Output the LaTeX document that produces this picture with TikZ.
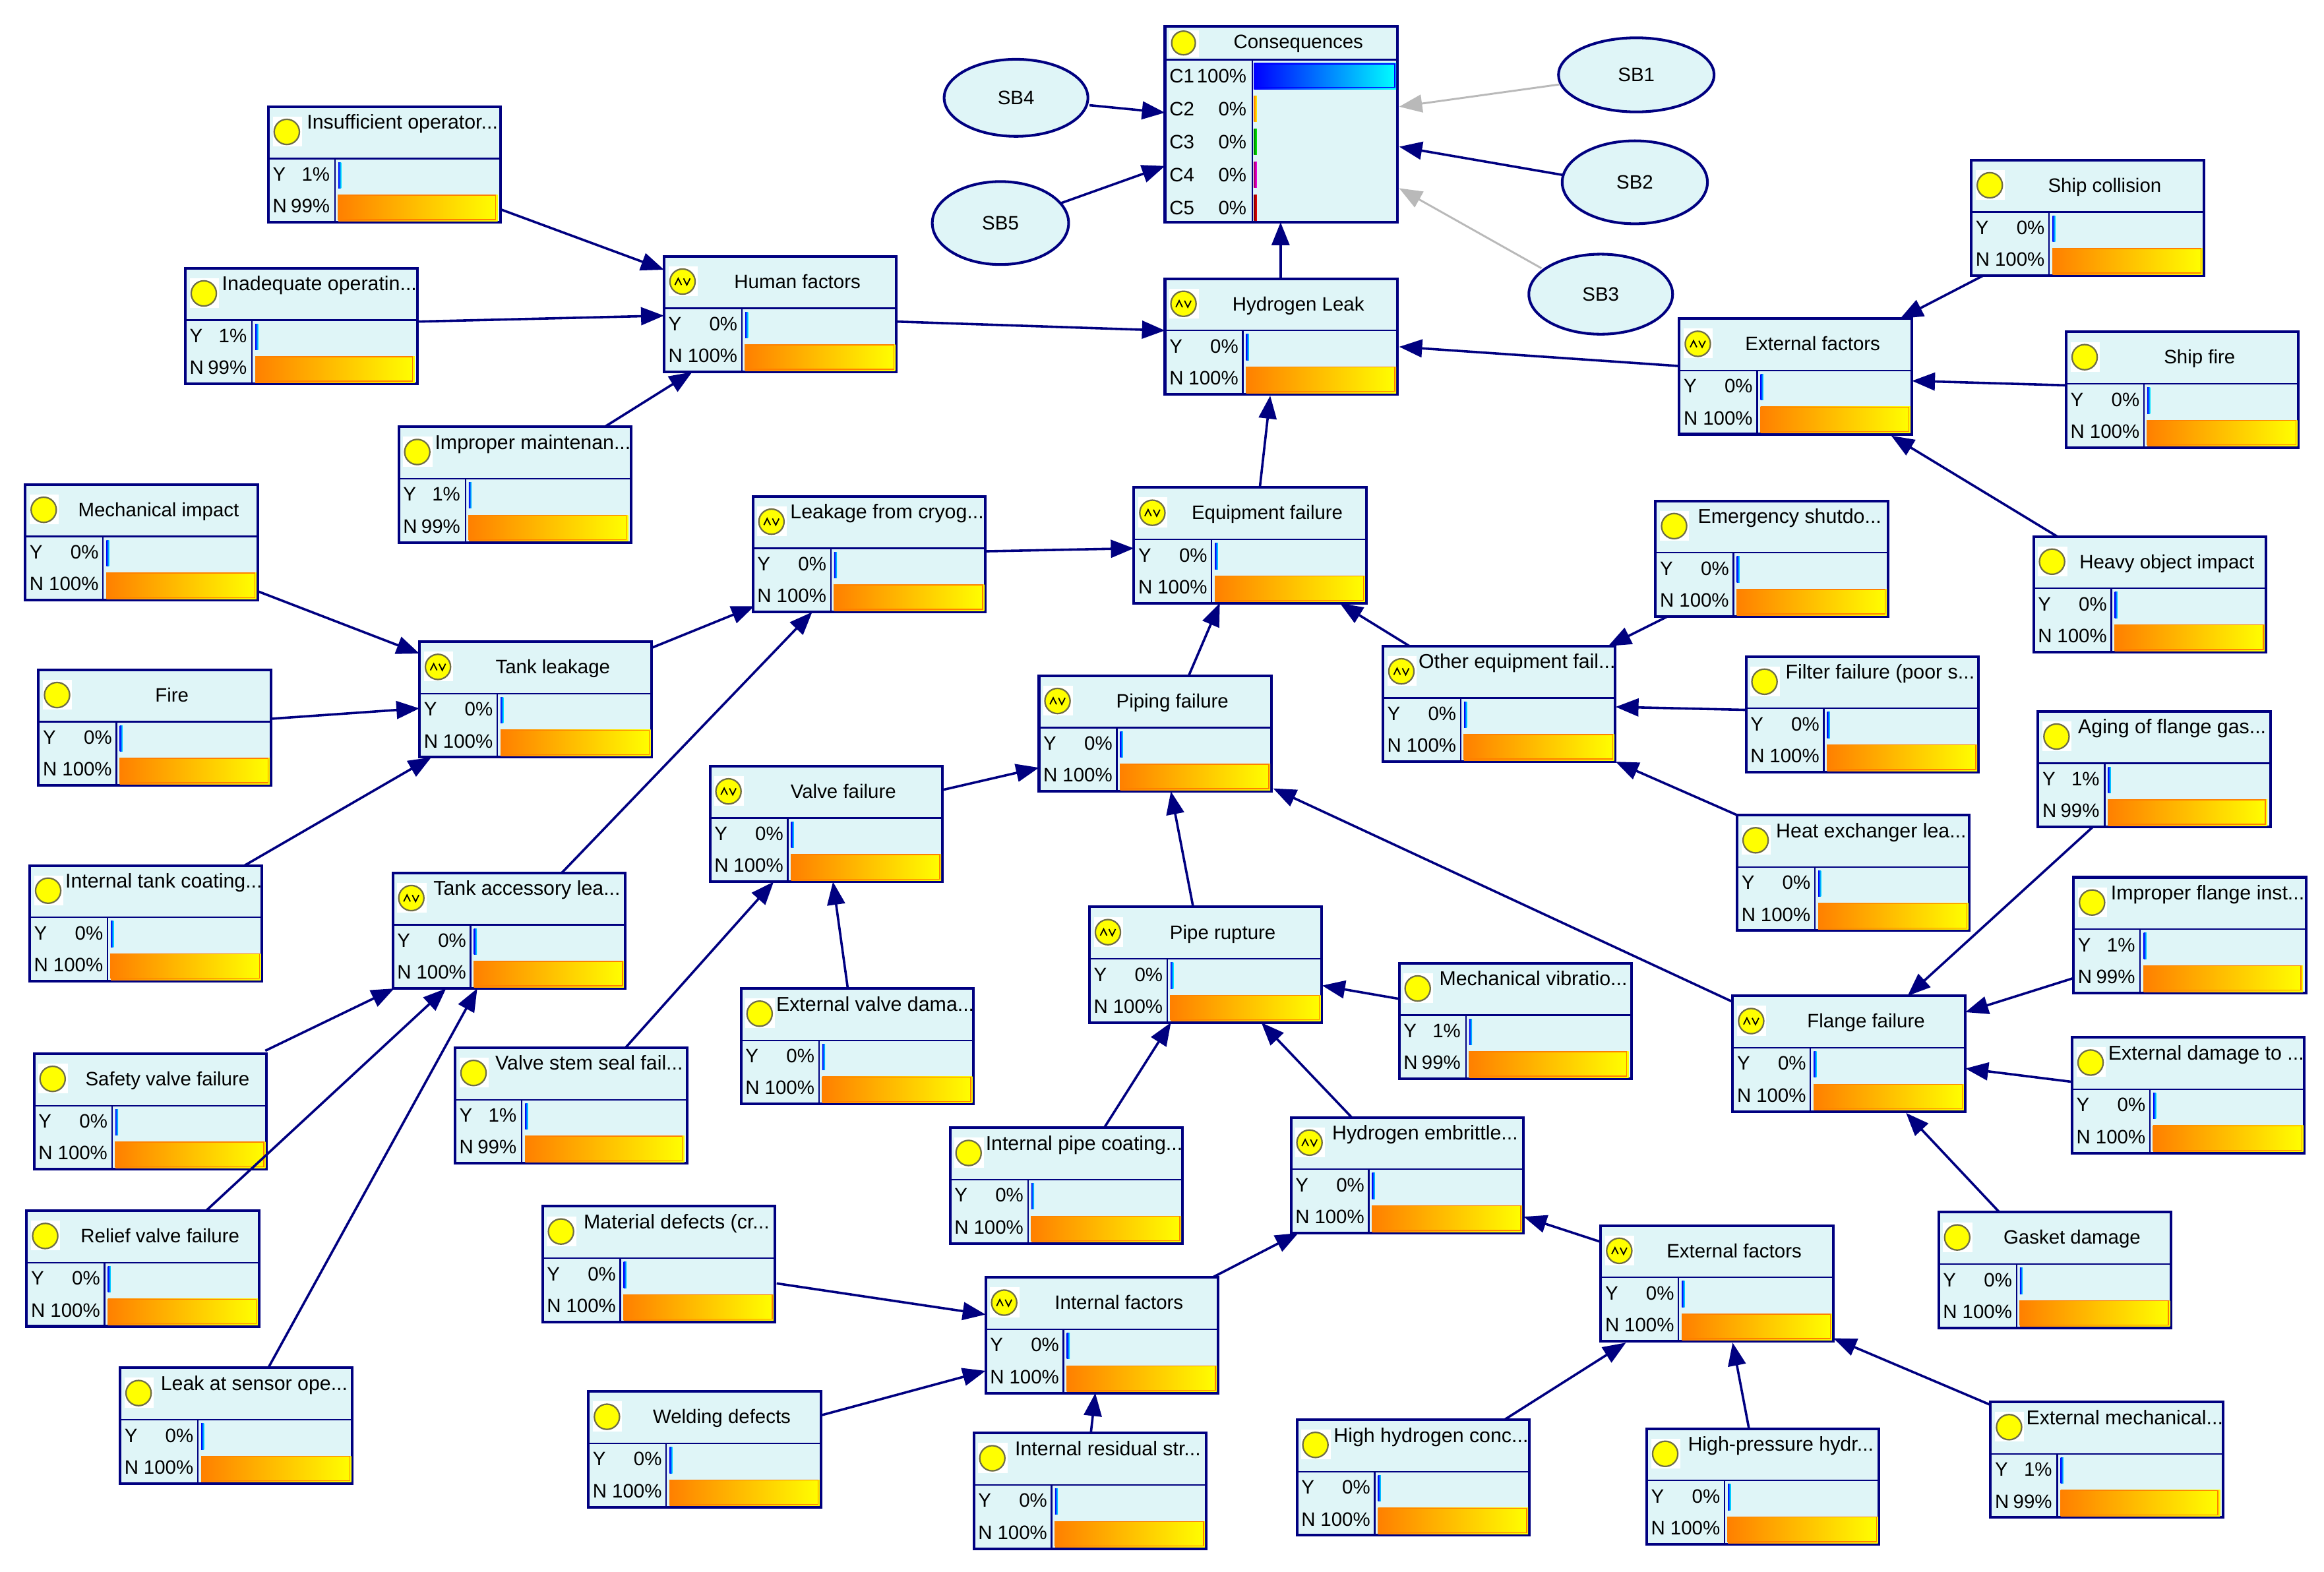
\documentclass[tikz,border=0pt]{standalone}
\usepackage{fontspec}
\setmainfont{Liberation Sans}
\usetikzlibrary{arrows.meta,shapes.geometric}
\definecolor{boxfill}{RGB}{223,245,247}
\definecolor{navy}{RGB}{0,0,128}
\definecolor{gorange}{RGB}{255,128,0}
\definecolor{gyellow}{RGB}{255,255,0}
\definecolor{gblue}{RGB}{0,0,255}
\definecolor{gcyan}{RGB}{0,255,255}
\definecolor{iconedge}{RGB}{110,110,70}
\definecolor{arcgray}{RGB}{185,185,185}
\tikzset{
  x=1pt,y=-1pt,
  box/.style={draw=navy,fill=boxfill,line width=1.8pt,rectangle,inner sep=0pt,outer sep=0pt,minimum width=156.8pt,minimum height=78pt},
  conbox/.style={draw=navy,fill=boxfill,line width=1.8pt,rectangle,inner sep=0pt,outer sep=0pt,minimum width=156.8pt,minimum height=132pt},
  sb/.style={draw=navy,fill=boxfill,line width=1.8pt,ellipse,inner sep=0pt,outer sep=0pt,font=\fontsize{13.1}{15}\selectfont},
  lbl/.style={inner sep=0pt,outer sep=0pt,text height=.72em,text depth=.2em,font=\fontsize{13.1}{15}\selectfont,text=black},
  longlbl/.style={lbl,font=\fontsize{13.5}{15}\selectfont},
  innerline/.style={draw=navy,line width=1pt},
  arc/.style={draw=navy,line width=1.6pt,-{Triangle[length=15.5pt,width=12pt]}},
  grayarc/.style={draw=arcgray,line width=1.3pt,-{Triangle[length=15.5pt,width=12pt]}},
  iconcircle/.style={fill=gyellow,draw=iconedge,line width=1pt},
}
\newcommand{\bn}[8]{% name, L, T, av(0/1), long(0/1), title, Y, N
  \node[box,anchor=north west] (#1) at (#2,#3) {};
  \begin{scope}[shift={(#2,#3)}]
    \ifnum#8=99 \def\splitx{45}\def\pctgap{3.5}\else\def\splitx{52.5}\def\pctgap{3}\fi
    \draw[innerline] (0,35) -- (156.8,35);
    \draw[innerline] (\splitx,35) -- (\splitx,78);
    \fill[white] (3,6.7) rectangle (22.7,26.8);
    \draw[iconcircle] (12.5,17) circle (8.5);
    \ifnum#4=1
      \draw[black,line width=.8pt] (7.4,19.3) -- (9.6,14.9) -- (11.8,19.3) (13.2,14.9) -- (15.4,19.3) -- (17.6,14.9);
    \fi
    \ifnum#5=1
      \node[longlbl] (#1-title) at (90.5,12.5) {#6};
    \else
      \node[lbl] (#1-title) at (90,19) {#6};
    \fi
    \node[lbl,anchor=west] (#1-yl) at (3,47.5) {Y};
    \node[lbl,anchor=west] (#1-nl) at (3,69) {N};
    \node[lbl,anchor=east] (#1-yp) at (\splitx-\pctgap,47.5) {#7\%};
    \node[lbl,anchor=east] (#1-np) at (\splitx-\pctgap,69) {#8\%};
    \shade[left color=gblue,right color=gcyan] (\splitx+2.3,37.5) rectangle (\splitx+4.2,55);
    \ifnum#8=99
      \shade[left color=gorange,right color=gyellow] (\splitx+2.3,59.5) rectangle (154.8,77.2);
      \draw[gorange,line width=.6pt] (\splitx+2.3,59.7) rectangle (153.4,76.2);
    \else
      \shade[left color=gorange,right color=gyellow] (\splitx+2.3,59.5) rectangle (156,77.2);
      \draw[gorange,line width=.6pt] (\splitx+2.3,59.7) rectangle (155,76.2);
    \fi
  \end{scope}
}
\newcommand{\conrow}[6]{% label, y, pct, left colour, right colour, barright
  \node[lbl,anchor=west] (con-l#1) at (3,#2+2) {#1};
  \node[lbl,anchor=east] (con-p#1) at (55,#2+2) {#3\%};
  \shade[left color=#4,right color=#5] (60,#2-8.7) rectangle (#6,#2+8.7);
}
\begin{document}
\begin{tikzpicture}
\useasboundingbox (0,0) rectangle (1568,1060.7);
\fill[white] (0,0) rectangle (1568,1060.7);

\bn{ins}{181}{72}{0}{1}{Insufficient operator...}{1}{99}
\bn{inad}{125}{181}{0}{1}{Inadequate operatin...}{1}{99}
\bn{human}{448}{173}{1}{0}{Human factors}{0}{100}
\bn{impm}{269}{288}{0}{1}{Improper maintenan...}{1}{99}
\bn{mech}{17}{327}{0}{0}{Mechanical impact}{0}{100}
\bn{fire}{26}{452}{0}{0}{Fire}{0}{100}
\bn{tank}{283}{433}{1}{0}{Tank leakage}{0}{100}
\bn{itc}{20}{584}{0}{1}{Internal tank coating...}{0}{100}
\bn{tacc}{265}{589}{1}{1}{Tank accessory lea...}{0}{100}
\bn{leak}{508}{335}{1}{1}{Leakage from cryog...}{0}{100}
\bn{safe}{23}{711}{0}{0}{Safety valve failure}{0}{100}
\bn{rel}{18}{817}{0}{0}{Relief valve failure}{0}{100}
\bn{sens}{81}{923}{0}{1}{Leak at sensor ope...}{0}{100}
\bn{stem}{307}{707}{0}{1}{Valve stem seal fail...}{1}{99}
\bn{valve}{479}{517}{1}{0}{Valve failure}{0}{100}
\bn{evd}{500}{667}{0}{1}{External valve dama...}{0}{100}
\bn{equip}{765}{329}{1}{0}{Equipment failure}{0}{100}
\bn{pipe}{701}{456}{1}{0}{Piping failure}{0}{100}
\bn{rupt}{735}{612}{1}{0}{Pipe rupture}{0}{100}
\bn{vib}{944}{650}{0}{1}{Mechanical vibratio...}{1}{99}
\bn{ipc}{641}{761}{0}{1}{Internal pipe coating...}{0}{100}
\bn{emb}{871}{754}{1}{1}{Hydrogen embrittle...}{0}{100}
\bn{mat}{366}{814}{0}{1}{Material defects (cr...}{0}{100}
\bn{intf}{665}{862}{1}{0}{Internal factors}{0}{100}
\bn{weld}{397}{939}{0}{0}{Welding defects}{0}{100}
\bn{irs}{657}{967}{0}{1}{Internal residual str...}{0}{100}
\bn{extf}{1080}{827}{1}{0}{External factors}{0}{100}
\bn{hhc}{875}{958}{0}{1}{High hydrogen conc...}{0}{100}
\bn{hph}{1111}{964}{0}{1}{High-pressure hydr...}{0}{100}
\bn{emc}{1343}{946}{0}{1}{External mechanical...}{1}{99}
\bn{gask}{1308}{818}{0}{0}{Gasket damage}{0}{100}
\bn{flan}{1169}{672}{1}{0}{Flange failure}{0}{100}
\bn{edt}{1398}{700}{0}{1}{External damage to ...}{0}{100}
\bn{ifi}{1399}{592}{0}{1}{Improper flange inst...}{1}{99}
\bn{agi}{1375}{480}{0}{1}{Aging of flange gas...}{1}{99}
\bn{hex}{1172}{550}{0}{1}{Heat exchanger lea...}{0}{100}
\bn{filt}{1178}{443}{0}{1}{Filter failure (poor s...}{0}{100}
\bn{oth}{933}{436}{1}{1}{Other equipment fail...}{0}{100}
\bn{emer}{1117}{338}{0}{1}{Emergency shutdo...}{0}{100}
\bn{heavy}{1372}{362}{0}{0}{Heavy object impact}{0}{100}
\bn{sfire}{1394}{224}{0}{0}{Ship fire}{0}{100}
\bn{exts}{1133}{215}{1}{0}{External factors}{0}{100}
\bn{scol}{1330}{108}{0}{0}{Ship collision}{0}{100}
\bn{hyd}{786}{188}{1}{0}{Hydrogen Leak}{0}{100}

% Consequences
\node[conbox,anchor=north west] (con) at (786,18) {};
\begin{scope}[shift={(786,18)}]
  \draw[innerline] (0,22.3) -- (156.8,22.3);
  \draw[innerline] (59,22.3) -- (59,132);
  \fill[white] (3,2.5) rectangle (22.7,20.5);
  \draw[iconcircle] (12.5,11) circle (8);
  \node[lbl] (con-title) at (90,12) {Consequences};
  \conrow{C1}{33.4}{100}{gblue}{gcyan}{156}
  \conrow{C2}{55.4}{0}{gorange}{gyellow}{62}
  \conrow{C3}{77.6}{0}{green!50!black}{green}{62}
  \conrow{C4}{99.9}{0}{purple!50!violet}{magenta}{62}
  \conrow{C5}{122.2}{0}{red!50!black}{red}{62}
  \draw[gblue,line width=.6pt] (60,25.2) rectangle (155,41);
\end{scope}

% scenario nodes
\node[sb,minimum width=97pt,minimum height=52pt] (sb4) at (685.5,66) {SB4};
\node[sb,minimum width=92pt,minimum height=56pt] (sb5) at (675,150.5) {SB5};
\node[sb,minimum width=105pt,minimum height=50pt] (sb1) at (1104,50.5) {SB1};
\node[sb,minimum width=98pt,minimum height=56pt] (sb2) at (1103,123) {SB2};
\node[sb,minimum width=97pt,minimum height=54pt] (sb3) at (1080,198.5) {SB3};

% connectors
\draw[arc] ([shift={(337-181,141-72)}]ins.north west) -- ([shift={(448-448,182-173)}]human.north west);
\draw[arc] ([shift={(282-125,217-181)}]inad.north west) -- ([shift={(448-448,213-173)}]human.north west);
\draw[arc] ([shift={(408-269,288-288)}]impm.north west) -- ([shift={(467-448,251-173)}]human.north west);
\draw[arc] ([shift={(605-448,217-173)}]human.north west) -- ([shift={(786-786,223-188)}]hyd.north west);
\draw[arc] ([shift={(864-786,188-188)}]hyd.north west) -- ([shift={(864-786,150-18)}]con.north west);
\draw[arc] ([shift={(174-17,399-327)}]mech.north west) -- ([shift={(283-283,441-433)}]tank.north west);
\draw[arc] ([shift={(183-26,485-452)}]fire.north west) -- ([shift={(283-283,478-433)}]tank.north west);
\draw[arc] ([shift={(165-20,584-584)}]itc.north west) -- ([shift={(291-283,511-433)}]tank.north west);
\draw[arc] ([shift={(440-283,437-433)}]tank.north west) -- ([shift={(509-508,409-335)}]leak.north west);
\draw[arc] ([shift={(665-508,372-335)}]leak.north west) -- ([shift={(765-765,370-329)}]equip.north west);
\draw[arc] ([shift={(379-265,589-589)}]tacc.north west) -- ([shift={(548-508,413-335)}]leak.north west);
\draw[arc] ([shift={(179-23,709-711)}]safe.north west) -- ([shift={(266-265,667-589)}]tacc.north west);
\draw[arc] ([shift={(139-18,817-817)}]rel.north west) -- ([shift={(301-265,667-589)}]tacc.north west);
\draw[arc] ([shift={(181-81,923-923)}]sens.north west) -- ([shift={(322-265,667-589)}]tacc.north west);
\draw[arc] ([shift={(422-307,707-707)}]stem.north west) -- ([shift={(522-479,595-517)}]valve.north west);
\draw[arc] ([shift={(572-500,667-667)}]evd.north west) -- ([shift={(562-479,595-517)}]valve.north west);
\draw[arc] ([shift={(636-479,533-517)}]valve.north west) -- ([shift={(701-701,518-456)}]pipe.north west);
\draw[arc] ([shift={(802-701,456-456)}]pipe.north west) -- ([shift={(823-765,407-329)}]equip.north west);
\draw[arc] ([shift={(850-765,329-329)}]equip.north west) -- ([shift={(857-786,267-188)}]hyd.north west);
\draw[arc] ([shift={(951-933,436-436)}]oth.north west) -- ([shift={(904-765,407-329)}]equip.north west);
\draw[arc] ([shift={(1125-1117,416-338)}]emer.north west) -- ([shift={(1085-933,436-436)}]oth.north west);
\draw[arc] ([shift={(1178-1178,479-443)}]filt.north west) -- ([shift={(1090-933,477-436)}]oth.north west);
\draw[arc] ([shift={(1172-1172,550-550)}]hex.north west) -- ([shift={(1090-933,514-436)}]oth.north west);
\draw[arc] ([shift={(805-735,612-612)}]rupt.north west) -- ([shift={(790-701,534-456)}]pipe.north west);
\draw[arc] ([shift={(1169-1169,676-672)}]flan.north west) -- ([shift={(859-701,532-456)}]pipe.north west);
\draw[arc] ([shift={(944-944,674-650)}]vib.north west) -- ([shift={(892-735,665-612)}]rupt.north west);
\draw[arc] ([shift={(745-641,761-761)}]ipc.north west) -- ([shift={(790-735,690-612)}]rupt.north west);
\draw[arc] ([shift={(912-871,754-754)}]emb.north west) -- ([shift={(851-735,690-612)}]rupt.north west);
\draw[arc] ([shift={(818-665,862-862)}]intf.north west) -- ([shift={(876-871,832-754)}]emb.north west);
\draw[arc] ([shift={(1080-1080,838-827)}]extf.north west) -- ([shift={(1028-871,821-754)}]emb.north west);
\draw[arc] ([shift={(524-366,866-814)}]mat.north west) -- ([shift={(665-665,887-862)}]intf.north west);
\draw[arc] ([shift={(554-397,955-939)}]weld.north west) -- ([shift={(665-665,925-862)}]intf.north west);
\draw[arc] ([shift={(736-657,967-967)}]irs.north west) -- ([shift={(739-665,940-862)}]intf.north west);
\draw[arc] ([shift={(1015-875,958-958)}]hhc.north west) -- ([shift={(1097-1080,906-827)}]extf.north west);
\draw[arc] ([shift={(1180-1111,964-964)}]hph.north west) -- ([shift={(1169-1080,906-827)}]extf.north west);
\draw[arc] ([shift={(1343-1343,948-946)}]emc.north west) -- ([shift={(1237-1080,903-827)}]extf.north west);
\draw[arc] ([shift={(1349-1308,818-818)}]gask.north west) -- ([shift={(1286-1169,751-672)}]flan.north west);
\draw[arc] ([shift={(1398-1398,730-700)}]edt.north west) -- ([shift={(1326-1169,721-672)}]flan.north west);
\draw[arc] ([shift={(1399-1399,660-592)}]ifi.north west) -- ([shift={(1326-1169,683-672)}]flan.north west);
\draw[arc] ([shift={(1412-1375,558-480)}]agi.north west) -- ([shift={(1287-1169,672-672)}]flan.north west);
\draw[arc] ([shift={(1388-1372,362-362)}]heavy.north west) -- ([shift={(1276-1133,294-215)}]exts.north west);
\draw[arc] ([shift={(1394-1394,260-224)}]sfire.north west) -- ([shift={(1290-1133,257-215)}]exts.north west);
\draw[arc] ([shift={(1338-1330,186-108)}]scol.north west) -- ([shift={(1282-1133,215-215)}]exts.north west);
\draw[arc] ([shift={(1133-1133,247-215)}]exts.north west) -- ([shift={(944-786,234-188)}]hyd.north west);
\draw[grayarc] ([shift={(1052-1104,57-50.5)}]sb1.center) -- ([shift={(944-786,72-18)}]con.north west);
\draw[arc] ([shift={(1054-1103,118-123)}]sb2.center) -- ([shift={(944-786,99-18)}]con.north west);
\draw[grayarc] ([shift={(1040-1080,181-198.5)}]sb3.center) -- ([shift={(944-786,127-18)}]con.north west);
\draw[arc] ([shift={(735-685.5,71-66)}]sb4.center) -- ([shift={(786-786,76-18)}]con.north west);
\draw[arc] ([shift={(716-675,137-150.5)}]sb5.center) -- ([shift={(786-786,112-18)}]con.north west);
\end{tikzpicture}
\end{document}
